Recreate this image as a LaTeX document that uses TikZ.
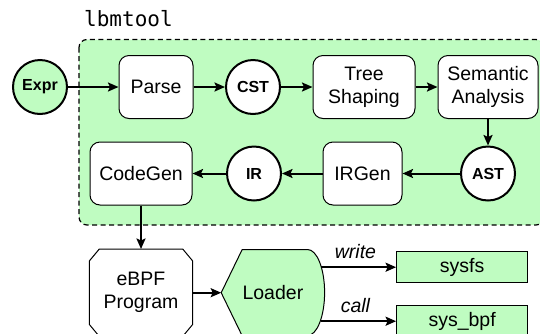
\documentclass[tikz,border=0pt]{standalone}
\usepackage{fontspec}
\setsansfont{Liberation Sans}
\setmonofont{DejaVu Sans Mono}
\usetikzlibrary{ arrows.meta, backgrounds, calc, positioning }
\definecolor{lbmgreen}{RGB}{191,252,193}
\tikzset{
>={Stealth[length=10.5pt,width=9pt,inset=2pt]}, % filled arrow heads
every node/.style={inner sep=1pt, font=\sffamily\fontsize{19.5}{23}\selectfont},
stage/.style={draw, line width=1pt, rounded corners=10pt, fill=white, align=center, minimum height=63pt},
datum/.style={circle, draw, line width=2pt, fill=white, minimum size=54pt, inner sep=0pt,
  font=\sffamily\bfseries\fontsize{16}{19}\selectfont},
sysbox/.style={draw, line width=1pt, fill=lbmgreen, minimum width=131pt, minimum height=31pt},
flow/.style={->, line width=2pt},
lbl/.style={above=7pt, font=\sffamily\itshape\fontsize{19.5}{23}\selectfont},
}

\begin{document}
\begin{tikzpicture}[x=1pt, y=1pt]
  \useasboundingbox (0,0) rectangle (540,-333);
  \clip (0,0) rectangle (540,-333);

  % Top row: parsing -----------------------------------
  \node[datum, fill=lbmgreen] (expr) at (40,-87) {Expr};
  \node[stage, minimum width=74pt, right=50.5pt of expr] (parse) {Parse};
  \node[datum, right=31.5pt of parse] (cst) {CST};
  \node[stage, minimum width=102pt, right=31.5pt of cst] (shape) {Tree\\Shaping};
  \node[stage, minimum width=100pt, right=22pt of shape] (sema) {Semantic\\Analysis};

  % Second row: back to code ---------------------------
  \node[datum, below=26.5pt of sema] (ast) {AST};
  \node[stage, minimum width=79pt, left=57.5pt of ast] (irgen) {IRGen};
  \node[datum, left=40.5pt of irgen] (ir) {IR};
  \node[stage, minimum width=102pt, left=33.5pt of ir] (codegen) {CodeGen};

  % Outside the tool -----------------------------------
  \node[minimum width=103pt, minimum height=87pt, align=center, below=43.5pt of codegen] (ebpf) {eBPF\\Program};
  \node[minimum width=103pt, minimum height=86pt, inner sep=0pt, right=28.5pt of ebpf] (loader) {Loader};
  \node[sysbox, right=71.5pt of loader, yshift=25.5pt] (sysfs) {sysfs};
  \node[sysbox, below=22pt of sysfs] (sysbpf) {sys\_bpf};

  % Dashed box of the tool, outlines of program and loader
  \coordinate (boxnw) at ($(codegen.west |- parse.north)+(-10.5,15.5)$);
  \coordinate (boxse) at ($(sema.east |- codegen.south)+(5.5,-19.5)$);
  \begin{scope}[on background layer]
    \draw[line width=1.2pt, dash pattern=on 5pt off 3.5pt, rounded corners=8pt, fill=lbmgreen]
      (boxnw) rectangle (boxse);
    \draw[line width=1pt, fill=white] ($(ebpf.north west)+(10,0)$) -- ($(ebpf.north east)+(-10,0)$)
      -- ($(ebpf.north east)+(0,-12)$) -- ($(ebpf.south east)+(0,12)$)
      -- ($(ebpf.south east)+(-10,0)$) -- ($(ebpf.south west)+(10,0)$)
      -- ($(ebpf.south west)+(0,12)$) -- ($(ebpf.north west)+(0,-12)$) -- cycle;
    \draw[line width=1pt, fill=lbmgreen] (loader.west) -- ($(loader.north west)+(21,0)$)
      -- ($(loader.north east)+(-17,0)$) arc[start angle=90, end angle=-90, x radius=17, y radius=43]
      -- ($(loader.south west)+(21,0)$) -- cycle;
  \end{scope}
  \node[anchor=south west, inner sep=0pt, font=\ttfamily\fontsize{21}{25}\selectfont]
    (tool) at ($(boxnw)+(5,13)$) {lbmtool};

  \draw[flow] (expr) -- (parse);
  \draw[flow] (parse) -- (cst);
  \draw[flow] (cst) -- (shape);
  \draw[flow] (shape) -- (sema);
  \draw[flow] (sema) -- (ast);
  \draw[flow] (ast) -- (irgen);
  \draw[flow] (irgen) -- (ir);
  \draw[flow] (ir) -- (codegen);
  \draw[flow] (codegen) -- (ebpf);
  \draw[flow] (ebpf) -- (loader.west);

  \coordinate (wr) at ($(loader.east |- sysfs.west)+(-3.8,0)$);
  \coordinate (cl) at ($(loader.east |- sysbpf.west)+(-3.8,0)$);
  \draw[flow] (wr) -- node[lbl, pos=0.46]{write} (sysfs);
  \draw[flow] (cl) -- node[lbl, pos=0.46]{call} (sysbpf);
\end{tikzpicture}
\end{document}
